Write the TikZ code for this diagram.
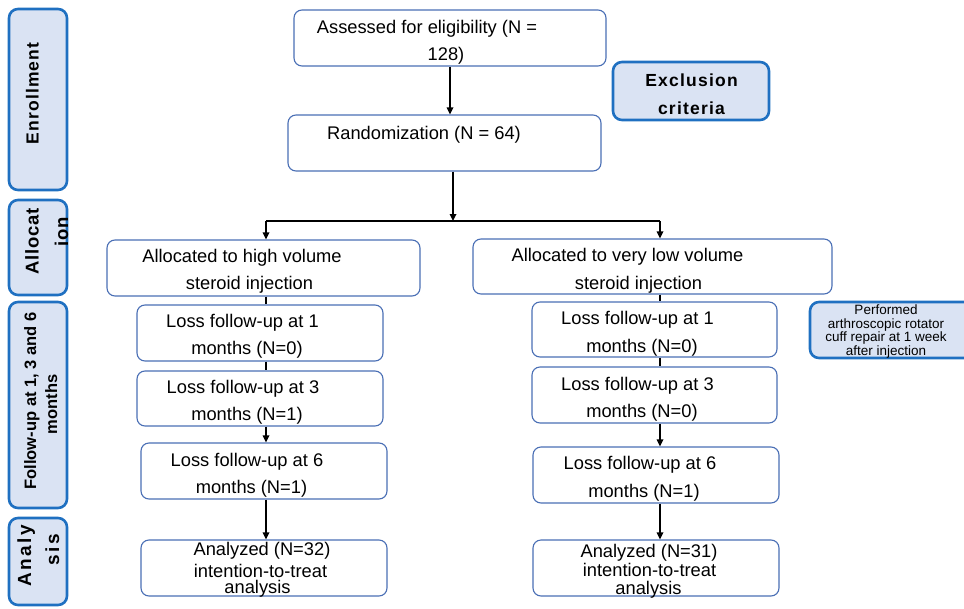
\documentclass[tikz,border=0pt]{standalone}
\usepackage{fontspec}
\setmainfont{Liberation Sans}
\usetikzlibrary{arrows.meta}
\definecolor{bbord}{HTML}{4A6FB5}
\definecolor{tabfill}{HTML}{DAE3F3}
\definecolor{tabbord}{HTML}{1F70C1}
\begin{document}
\begin{tikzpicture}[x=1pt,y=-1pt,
  wbox/.style={draw=bbord, line width=1.1pt, rounded corners=8pt, fill=white, inner sep=0pt},
  tabbox/.style={draw=tabbord, fill=tabfill, line width=2.6pt, rounded corners=9pt, inner sep=0pt},
  txt/.style={anchor=base, inner sep=0pt, font=\fontsize{18.3}{22}\selectfont},
  tabtxt/.style={anchor=base, inner sep=0pt, rotate=90},
  conn/.style={line width=1.6pt, black},
  arr/.style={conn, -{Triangle[length=7pt,width=6.5pt]}},
]
\useasboundingbox (0,0) rectangle (964,608);

% side tabs
\node[tabbox, minimum width=58pt, minimum height=181pt] (tabE) at (38,99.5) {};
\node[tabbox, minimum width=58pt, minimum height=95pt] (tabA) at (38,247.5) {};
\node[tabbox, minimum width=58pt, minimum height=206pt] (tabF) at (38,405) {};
\node[tabbox, minimum width=58pt, minimum height=87pt] (tabN) at (38,561.5) {};

\node[tabtxt, font=\bfseries\fontsize{17.5}{18}\selectfont\addfontfeature{LetterSpace=7}] (tE) at (38.5,93.5) {Enrollment};
\node[tabtxt, font=\bfseries\fontsize{18.5}{18}\selectfont\addfontfeature{LetterSpace=4}] (tA1) at (38.5,241.5) {Allocat};
\node[tabtxt, font=\bfseries\fontsize{18.5}{18}\selectfont\addfontfeature{LetterSpace=4}] (tA2) at (68,231.5) {ion};
\node[tabtxt, font=\bfseries\fontsize{16.5}{18}\selectfont] (tF1) at (36,401) {Follow-up at 1, 3 and 6};
\node[tabtxt, font=\bfseries\fontsize{16.5}{18}\selectfont] (tF2) at (57,404.5) {months};
\node[tabtxt, font=\bfseries\fontsize{19}{18}\selectfont\addfontfeature{LetterSpace=13}] (tN1) at (31,555.5) {Analy};
\node[tabtxt, font=\bfseries\fontsize{19}{18}\selectfont\addfontfeature{LetterSpace=13}] (tN2) at (59,549.5) {sis};

% main boxes
\node[wbox, minimum width=312pt, minimum height=56pt] (assess) at (450,38) {};
\node[wbox, minimum width=313pt, minimum height=56pt] (random) at (444.5,143) {};
\node[tabbox, minimum width=156pt, minimum height=58pt] (excl) at (691,91) {};

\node[wbox, minimum width=313pt, minimum height=56pt] (allocL) at (263.5,268) {};
\node[wbox, minimum width=246pt, minimum height=56pt] (l1L) at (260,333) {};
\node[wbox, minimum width=246pt, minimum height=55pt] (l3L) at (260,398.5) {};
\node[wbox, minimum width=246pt, minimum height=56pt] (l6L) at (264,471) {};
\node[wbox, minimum width=246pt, minimum height=56pt] (anL) at (264,568) {};

\node[wbox, minimum width=359pt, minimum height=55pt] (allocR) at (652.5,266.5) {};
\node[wbox, minimum width=245pt, minimum height=55pt] (l1R) at (654.5,329.5) {};
\node[wbox, minimum width=245pt, minimum height=56pt] (l3R) at (654.5,395) {};
\node[wbox, minimum width=246pt, minimum height=56pt] (l6R) at (656,475) {};
\node[wbox, minimum width=246pt, minimum height=56pt] (anR) at (656,568) {};

\node[tabbox, minimum width=165pt, minimum height=56pt] (perf) at (892.5,330) {};

% texts
\node[txt] (ta1) at (427,33) {Assessed for eligibility (N =};
\node[txt] (ta2) at (446,60) {128)};
\node[txt] (tr) at (424,139.5) {Randomization (N = 64)};
\node[anchor=base, inner sep=0pt, font=\bfseries\fontsize{17.5}{20}\selectfont\addfontfeature{LetterSpace=7}] (tx1) at (691.5,86.5) {Exclusion};
\node[anchor=base, inner sep=0pt, font=\bfseries\fontsize{17.5}{20}\selectfont\addfontfeature{LetterSpace=7}] (tx2) at (691.5,114) {criteria};

\node[txt] (tal1) at (242,262.5) {Allocated to high volume};
\node[txt] (tal2) at (249.5,289.5) {steroid injection};
\node[txt] (t1l1) at (242.5,327.5) {Loss follow-up at 1};
\node[txt] (t1l2) at (247,354.5) {months (N=0)};
\node[txt] (t3l1) at (243,393.5) {Loss follow-up at 3};
\node[txt] (t3l2) at (247,420.5) {months (N=1)};
\node[txt] (t6l1) at (247,466.5) {Loss follow-up at 6};
\node[txt] (t6l2) at (251.5,493.5) {months (N=1)};
\node[txt] (tanl1) at (262,555.5) {Analyzed (N=32)};
\node[txt] (tanl2) at (260.5,577) {intention-to-treat};
\node[txt] (tanl3) at (257.5,593.5) {analysis};

\node[txt] (tar1) at (627.5,261.5) {Allocated to very low volume};
\node[txt] (tar2) at (638.5,289.5) {steroid injection};
\node[txt] (t1r1) at (637.5,324.5) {Loss follow-up at 1};
\node[txt] (t1r2) at (642,352.5) {months (N=0)};
\node[txt] (t3r1) at (637.5,390.5) {Loss follow-up at 3};
\node[txt] (t3r2) at (642,417.5) {months (N=0)};
\node[txt] (t6r1) at (640,469.5) {Loss follow-up at 6};
\node[txt] (t6r2) at (644,497.5) {months (N=1)};
\node[txt] (tanr1) at (649,557.5) {Analyzed (N=31)};
\node[txt] (tanr2) at (649.5,576.5) {intention-to-treat};
\node[txt] (tanr3) at (648.5,594) {analysis};

\node[anchor=base, inner sep=0pt, align=center, font=\fontsize{13.5}{13.4}\selectfont] (tp) at (886,355) {Performed\\arthroscopic rotator\\cuff repair at 1 week\\after injection};

% connectors
\coordinate (split) at (453,221);
\coordinate (hl) at (266,221);
\coordinate (hr) at (660,221);
\draw[arr] (assess.south) -- (assess.south |- random.north);
\draw[arr] (random.south -| split) -- (split);
\draw[conn] (hl) -- (hr);
\draw[arr] (hl) -- (hl |- allocL.north);
\draw[arr] (hr) -- (hr |- allocR.north);

\draw[conn] (allocL.south -| hl) -- (l1L.north -| hl);
\draw[conn] (l1L.south -| hl) -- (l3L.north -| hl);
\draw[arr] (l3L.south -| hl) -- (l6L.north -| hl);
\draw[arr] (l6L.south -| hl) -- (anL.north -| hl);

\draw[conn] (allocR.south -| hr) -- (l1R.north -| hr);
\draw[conn] (l1R.south -| hr) -- (l3R.north -| hr);
\draw[arr] (l3R.south -| hr) -- (l6R.north -| hr);
\draw[arr] (l6R.south -| hr) -- (anR.north -| hr);
\end{tikzpicture}
\end{document}
